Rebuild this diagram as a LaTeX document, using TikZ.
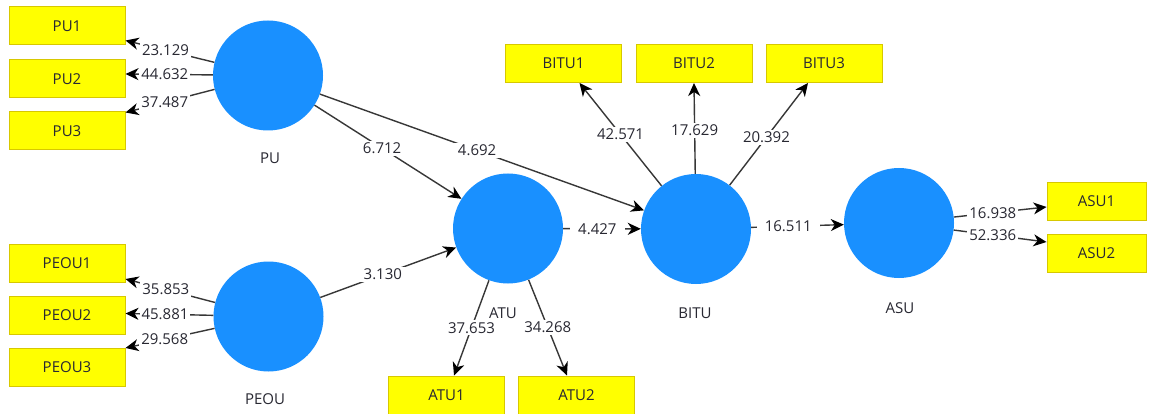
\documentclass[tikz,border=0pt]{standalone}
\usepackage{fontspec}
\setmainfont{Open Sans}
\usetikzlibrary{arrows.meta}
\definecolor{lvblue}{RGB}{25,144,255}
\definecolor{indyellow}{RGB}{255,255,0}
\definecolor{indborder}{RGB}{215,200,0}
\definecolor{edgegray}{RGB}{55,55,55}
\definecolor{txtcol}{RGB}{40,40,50}
\begin{document}
\begin{tikzpicture}[x=1pt,y=-1pt,
 font=\fontsize{15}{18}\selectfont,
 lv/.style={circle, fill=lvblue, minimum size=110pt, inner sep=0pt},
 ind/.style={rectangle, fill=indyellow, draw=indborder, line width=1pt, minimum width=116pt, minimum height=38pt, inner sep=0pt, text=txtcol},
 lvname/.style={text=txtcol, inner sep=1pt},
 lbl/.style={fill=white, text=txtcol, inner xsep=2pt, inner ysep=2pt},
 coef/.style={fill=white, text=txtcol, inner xsep=8pt, inner ysep=2pt},
 conn/.style={draw=edgegray, line width=1.4pt, -{Stealth[length=13pt,width=12pt,inset=4pt,color=black]}},
]
\useasboundingbox[fill=white] (0,0) rectangle (1156,414);

% latent variables
\node[lv] (PU) at (268,75.5) {};
\node[lv] (PEOU) at (268.5,316.5) {};
\node[lv] (ATU) at (508,228.5) {};
\node[lv] (BITU) at (696,229) {};
\node[lv] (ASU) at (899,223) {};

\node[lvname] (PUn) at (270,158) {PU};
\node[lvname] (PEOUn) at (265,399) {PEOU};
\node[lvname] (ATUn) at (503,313) {ATU};
\node[lvname] (BITUn) at (695,313) {BITU};
\node[lvname] (ASUn) at (900,308) {ASU};

% indicators
\node[ind] (PU1) at (67,26) {PU1};
\node[ind] (PU2) at (67,79) {PU2};
\node[ind] (PU3) at (67,131) {PU3};
\node[ind] (PEOU1) at (67,263.5) {PEOU1};
\node[ind] (PEOU2) at (67,315.5) {PEOU2};
\node[ind] (PEOU3) at (67,367.5) {PEOU3};
\node[ind] (BITU1) at (563.5,63.5) {BITU1};
\node[ind] (BITU2) at (694,63.5) {BITU2};
\node[ind] (BITU3) at (824,63.5) {BITU3};
\node[ind] (ATU1) at (446.5,395) {ATU1};
\node[ind] (ATU2) at (576.5,395) {ATU2};
\node[ind, minimum width=99pt] (ASU1) at (1096.5,201.5) {ASU1};
\node[ind, minimum width=99pt] (ASU2) at (1096.5,253) {ASU2};

% outer loadings
\draw[conn] (PU) -- ([yshift=5pt]PU1.south east) node[lbl,pos=0.55] {23.129};
\draw[conn] (PU) -- ([yshift=5pt]PU2.east) node[lbl,pos=0.55] {44.632};
\draw[conn] (PU) -- ([yshift=-1pt]PU3.north east) node[lbl,pos=0.56] {37.487};

\draw[conn] (PEOU) -- ([yshift=4pt]PEOU1.south east) node[lbl,pos=0.55] {35.853};
\draw[conn] (PEOU) -- ([yshift=2pt]PEOU2.east) node[lbl,pos=0.55] {45.881};
\draw[conn] (PEOU) -- (PEOU3.north east) node[lbl,pos=0.56] {29.568};

\draw[conn] (ATU) -- ([xshift=7.5pt]ATU1.north) node[lbl,pos=0.5] {37.653};
\draw[conn] (ATU) -- ([xshift=-9.5pt]ATU2.north) node[lbl,pos=0.5] {34.268};

\draw[conn] (BITU) -- ([xshift=16pt]BITU1.south) node[coef,inner xsep=4pt,pos=0.5] {42.571};
\draw[conn] (BITU) -- (BITU2.south) node[coef,inner xsep=4pt,pos=0.48] {17.629};
\draw[conn] (BITU) -- ([xshift=-16pt]BITU3.south) node[coef,inner xsep=4pt,pos=0.47] {20.392};

\draw[conn] (ASU) -- ([yshift=-5.5pt]ASU1.west) node[lbl,pos=0.42] {16.938};
\draw[conn] (ASU) -- ([yshift=11pt]ASU2.west) node[lbl,pos=0.42] {52.336};

% path coefficients
\draw[conn] (PU) -- (ATU) node[coef,pos=0.46] {6.712};
\draw[conn] (PU) -- (BITU) node[coef,pos=0.485] {4.692};
\draw[conn] (PEOU) -- (ATU) node[coef,pos=0.46] {3.130};
\draw[conn] (ATU) -- (BITU) node[coef,pos=0.44] {4.427};
\draw[conn] (BITU) -- (ASU) node[coef,pos=0.4] {16.511};
\end{tikzpicture}
\end{document}
